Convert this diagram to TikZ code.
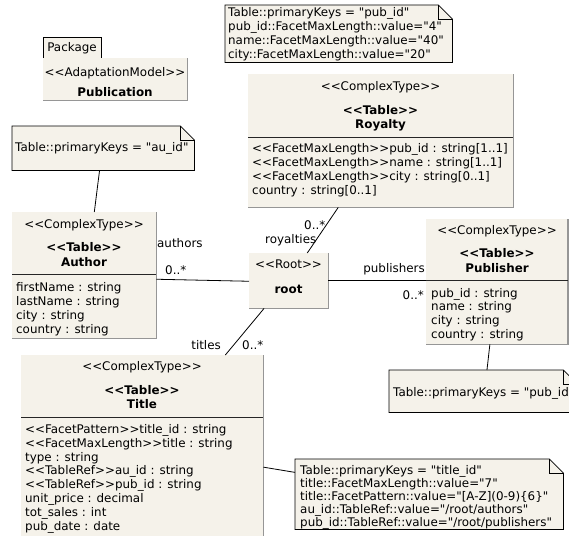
\documentclass[tikz,border=0pt]{standalone}
\usepackage{fontspec}
\setmainfont{DejaVu Sans}[Ligatures=TeXOff]
\usetikzlibrary{calc}
\definecolor{boxfill}{RGB}{245,242,234}
\definecolor{shadowgray}{RGB}{150,150,150}
\tikzset{
  every node/.style={font=\fontsize{11.9}{14}\selectfont},
  cls/.style={fill=boxfill, draw=none, inner sep=0pt, anchor=north west},
  shade line/.style={draw=shadowgray, line width=1.3pt},
  sep line/.style={draw=black!85, line width=0.9pt},
  notenode/.style={inner sep=0pt, anchor=north west},
  note line/.style={draw=black, line width=0.8pt, fill=boxfill},
  conn/.style={draw=black, line width=0.8pt},
  hdr/.style={inner sep=0pt, anchor=base},
  hdrb/.style={inner sep=0pt, anchor=base, font=\fontsize{11.9}{14}\selectfont\bfseries},
  lblw/.style={inner sep=0pt, anchor=base west},
  lble/.style={inner sep=0pt, anchor=base east},
}
\newcommand\mkclass[5]{%
  \node[cls, minimum width=#4pt, minimum height=#5pt] (#1) at (#2,#3) {};
  \draw[shade line] (#1.north east) -- (#1.south east) -- (#1.south west);
}
\newcommand\mknote[5]{%
  \node[notenode, minimum width=#4pt, minimum height=#5pt] (#1) at (#2,#3) {};
  \path[note line] (#1.north west) -- ([xshift=-14pt]#1.north east) -- ([yshift=-14pt]#1.north east) -- (#1.south east) -- (#1.south west) -- cycle;
  \draw[line width=0.8pt] ([xshift=-14pt]#1.north east) -- ([xshift=-14pt,yshift=-14pt]#1.north east) -- ([yshift=-14pt]#1.north east);
}
\begin{document}
\begin{tikzpicture}[x=1pt,y=-1pt]
\useasboundingbox (0,0) rectangle (569,535);
\begin{scope}
\clip (0,0) rectangle (569,535);

% Package
\node[draw=black, line width=0.8pt, fill=boxfill, minimum width=58pt, minimum height=21pt, inner sep=0pt, anchor=north west] (pkgtab) at (43,37) {};
\node[hdr] (pkgtxt) at (72,51.5) {Package};
\mkclass{pkg}{43}{58}{144}{42}
\node[hdr] (pkgst) at (115,76) {<<AdaptationModel>>};
\node[hdrb] (pkgname) at (115,96) {Publication};

% Royalty note
\mknote{n1}{225}{5}{227}{57}
\foreach [count=\i] \t in {{Table::primaryKeys = "pub\_id"},{pub\_id::FacetMaxLength::value="4"},{name::FacetMaxLength::value="40"},{city::FacetMaxLength::value="20"}}
  \node[lblw] (n1l\i) at (228,{16.8+13.8*(\i-1)}) {\t};

% Royalty
\mkclass{royalty}{248}{74}{265}{133}
\draw[sep line] (royalty.west |- 0,137) -- (royalty.east |- 0,137);
\node[hdr] (roys) at (380.5,90.5) {<<ComplexType>>};
\node[hdrb] (royt) at (380.5,114.5) {<<Table>>};
\node[hdrb] (royn) at (380.5,128.5) {Royalty};
\foreach [count=\i] \t in {{<<FacetMaxLength>>pub\_id : string[1..1]},{<<FacetMaxLength>>name : string[1..1]},{<<FacetMaxLength>>city : string[0..1]},{country : string[0..1]}}
  \node[lblw] (roya\i) at (252,{152+14*(\i-1)}) {\t};

% Author note
\mknote{an}{12}{126}{182}{44}
\node[lblw] (anl) at (15,151) {Table::primaryKeys = "au\_id"};

% Author
\mkclass{author}{12}{212}{144}{126}
\draw[sep line] (author.west |- 0,274) -- (author.east |- 0,274);
\node[hdr] (auts) at (84,228.5) {<<ComplexType>>};
\node[hdrb] (autt) at (84,251) {<<Table>>};
\node[hdrb] (autn) at (84,266.5) {Author};
\foreach [count=\i] \t in {{firstName : string},{lastName : string},{city : string},{country : string}}
  \node[lblw] (auta\i) at (16,{291+14*(\i-1)}) {\t};

% root
\mkclass{root}{249}{253}{79}{55}
\node[hdr] (roots) at (288.5,268.5) {<<Root>>};
\node[hdrb] (rootn) at (288.5,293) {root};

% Publisher
\mkclass{publisher}{426}{219}{141.5}{125}
\draw[sep line] (publisher.west |- 0,280) -- (publisher.east |- 0,280);
\node[hdr] (pubs) at (497,234) {<<ComplexType>>};
\node[hdrb] (pubt) at (497,257) {<<Table>>};
\node[hdrb] (pubn) at (497,272) {Publisher};
\foreach [count=\i] \t in {{pub\_id : string},{name : string},{city : string},{country : string}}
  \node[lblw] (puba\i) at (431,{297+13.7*(\i-1)}) {\t};

% Publisher note
\mknote{pn}{389}{370}{188}{42}
\node[lblw] (pnl) at (393,396) {Table::primaryKeys = "pub\_id"};

% Title
\mkclass{title}{21}{355}{242}{190}
\draw[sep line] (title.west |- 0,417) -- (title.east |- 0,417);
\node[hdr] (tits) at (142,370.5) {<<ComplexType>>};
\node[hdrb] (titt) at (142,394) {<<Table>>};
\node[hdrb] (titn) at (142,408) {Title};
\foreach [count=\i] \t in {{<<FacetPattern>>title\_id : string},{<<FacetMaxLength>>title : string},{type : string},{<<TableRef>>au\_id : string},{<<TableRef>>pub\_id : string},{unit\_price : decimal},{tot\_sales : int},{pub\_date : date}}
  \node[lblw] (tita\i) at (25,{433.5+13.8*(\i-1)}) {\t};

% Title note
\mknote{tn}{295}{459}{268}{70}
\foreach [count=\i] \t in {{Table::primaryKeys = "title\_id"},{title::FacetMaxLength::value="7"},{title::FacetPattern::value="[A-Z](0-9)\{6\}"},{au\_id::TableRef::value="/root/authors"},{pub\_id::TableRef::value="/root/publishers"}}
  \node[lblw] (tnl\i) at (300,{474.5+13.1*(\i-1)}) {\t};

% Connectors
\draw[conn] ($(an.south west)!0.48!(an.south east)$) -- ($(author.north west)!0.57!(author.north east)$);
\draw[conn] ($(author.north east)!0.532!(author.south east)$) -- ($(root.north west)!0.51!(root.south west)$);
\draw[conn] (root.east) -- (root.east -| publisher.west);
\draw[conn] ($(root.north west)!0.734!(root.north east)$) -- ($(royalty.south west)!0.34!(royalty.south east)$);
\draw[conn] ($(root.south west)!0.19!(root.south east)$) -- ($(title.north west)!0.843!(title.north east)$);
\draw[conn] ($(publisher.south west)!0.45!(publisher.south east)$) -- ($(pn.north west)!0.52!(pn.north east)$);
\draw[conn] ($(title.north east)!0.589!(title.south east)$) -- ($(tn.north west)!0.19!(tn.south west)$);

% Connector labels
\node[lblw] (lauth) at (157,247) {authors};
\node[lblw] (lauthm) at (165,274) {0..*};
\node[lblw] (lroym) at (304,229) {0..*};
\node[lblw] (lroy) at (265,243.5) {royalties};
\node[lble] (lpub) at (425,272) {publishers};
\node[lble] (lpubm) at (424,299) {0..*};
\node[lble] (ltit) at (221,349.5) {titles};
\node[lblw] (ltitm) at (242,349.5) {0..*};
\end{scope}
\end{tikzpicture}
\end{document}
